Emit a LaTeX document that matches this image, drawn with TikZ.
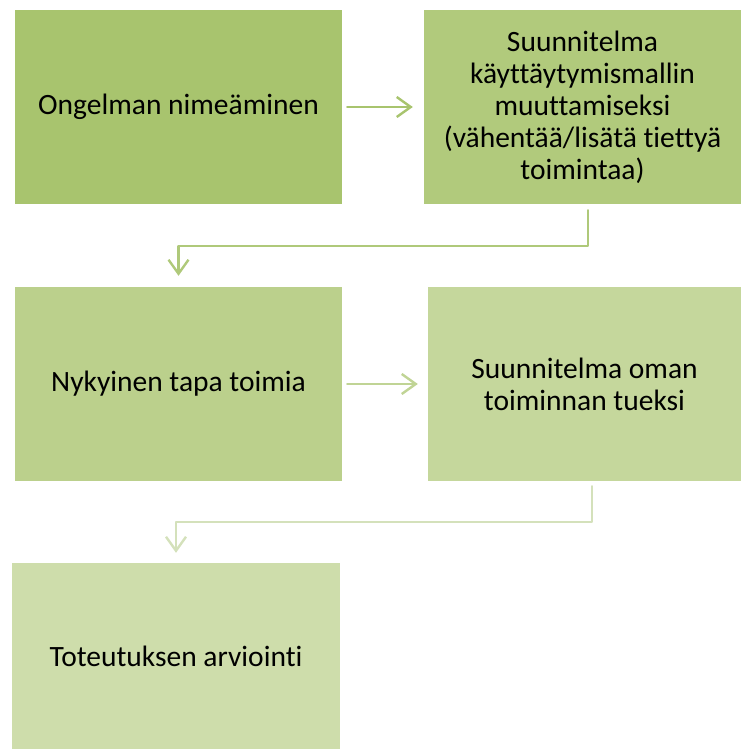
\documentclass[tikz,border=0pt]{standalone}
\usepackage{fontspec}
\setmainfont[Ligatures=NoCommon]{Carlito}
\usetikzlibrary{arrows.meta}

\definecolor{stepA}{HTML}{A8C46E}
\definecolor{stepB}{HTML}{B1CA7C}
\definecolor{stepC}{HTML}{BBD08C}
\definecolor{stepD}{HTML}{C5D79C}
\definecolor{stepE}{HTML}{CEDDAB}
\definecolor{linkA}{HTML}{A8C46E}
\definecolor{linkB}{HTML}{AFC97A}
\definecolor{linkC}{HTML}{C0D495}
\definecolor{linkD}{HTML}{D4E1BB}

\begin{document}
\begin{tikzpicture}[x=1pt, y=-1pt, line join=round, line cap=round,
    stepbox/.style={rectangle, inner sep=0pt, align=center,
      font=\fontsize{29.5}{32}\selectfont},
    link/.style={line width=2.4pt, -{Straight Barb[length=14pt, width=20pt, line width=2.4pt]}}]
      % page size
      \useasboundingbox (0,0) rectangle (741,749);

      % Boxes
      \node[stepbox, fill=stepA, minimum width=327pt, minimum height=194pt] (b1) at (178.5,107) {Ongelman nimeäminen};
      \node[stepbox, fill=stepB, minimum width=317pt, minimum height=194pt] (b2) at (582.5,107)
        {Suunnitelma\\ käyttäytymismallin\\ muuttamiseksi\\ (vähentää/lisätä tiettyä\\ toimintaa)};
      \node[stepbox, fill=stepC, minimum width=327pt, minimum height=194pt] (b3) at (178.5,384) {Nykyinen tapa toimia};
      \node[stepbox, fill=stepD, minimum width=313pt, minimum height=194pt] (b4) at (584.5,384) {Suunnitelma oman\\ toiminnan tueksi};
      \node[stepbox, fill=stepE, minimum width=328pt, minimum height=186pt] (b5) at (176,656) {Toteutuksen arviointi};

      % Arrows
      \draw[link, draw=linkA] ([xshift=5pt]b1.east) -- ([xshift=-11pt]b2.west);
      \draw[link, draw=linkB] ([xshift=5.5pt, yshift=-6pt]b2.south) -- ++(0,36) -| ([yshift=11pt]b3.north);
      \draw[link, draw=linkC] ([xshift=5pt]b3.east) -- ([xshift=-10pt]b4.west);
      \draw[link, draw=linkD] ([xshift=7.5pt, yshift=-5pt]b4.south) -- ++(0,36) -| ([yshift=10pt]b5.north);
\end{tikzpicture}
\end{document}
